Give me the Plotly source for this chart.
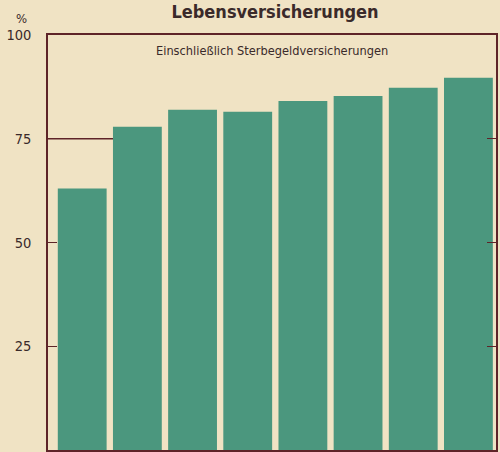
import plotly.graph_objects as go

# Data
bar_index = [0, 1, 2, 3, 4, 5, 6, 7]
share_percent = [63.0, 77.9, 82.0, 81.5, 84.1, 85.3, 87.3, 89.7]
y_tick_values = [0, 25, 50, 75, 100]
y_tick_labels = ["0", "25", "50", "75", "100"]
title_text = "Lebensversicherungen"
subtitle_text = "Einschließlich Sterbegeldversicherungen"

BG = "#f0e3c4"
GREEN = "#4b977e"
AXIS = "#5e2428"
TEXT = "#3a2a2a"
FONT = "Liberation Sans Narrow, DejaVu Sans Condensed, Arial Narrow, sans-serif"

x_range = [-0.62, 7.5]

fig = go.Figure()
fig.add_trace(go.Bar(
    x=bar_index, y=share_percent, width=0.885,
    marker=dict(color=GREEN, line=dict(width=0)),
    hoverinfo="y",
))

fig.update_layout(
    width=500, height=452,
    margin=dict(l=48, r=2, t=35, b=2, pad=0),
    paper_bgcolor=BG, plot_bgcolor=BG,
    showlegend=False,
    font=dict(family=FONT, color=TEXT),
    title=dict(
        text=f"<b>{title_text}</b>", x=275 / 500, xref="container", xanchor="center",
        y=1 - 12 / 452, yref="container", yanchor="middle",
        font=dict(family=FONT, size=18, color=TEXT),
    ),
    xaxis=dict(
        range=x_range, showgrid=False, zeroline=False,
        showticklabels=False, ticks="",
        showline=True, linecolor=AXIS, linewidth=1.8, mirror=True,
    ),
    yaxis=dict(
        range=[0, 100], tickvals=y_tick_values, ticktext=y_tick_labels,
        showgrid=False, zeroline=False,
        ticks="inside", ticklen=9, tickwidth=1.2, tickcolor=AXIS,
        showline=True, linecolor=AXIS, linewidth=1.5, mirror="ticks",
        ticklabelstandoff=12,
        tickfont=dict(family=FONT, size=14.5, color=TEXT),
    ),
    annotations=[
        dict(text=subtitle_text, xref="paper", yref="paper",
             x=(273 - 48) / 450, y=(450 - 50) / 415,
             xanchor="center", yanchor="middle", showarrow=False,
             font=dict(family=FONT, size=12.7, color=TEXT)),
        dict(text="%", xref="paper", yref="paper",
             x=(21 - 48) / 450, y=(450 - 18) / 415,
             xanchor="center", yanchor="middle", showarrow=False,
             font=dict(family=FONT, size=13, color=TEXT)),
    ],
    shapes=[
        dict(type="line", xref="x", yref="y",
             x0=x_range[0], x1=0.56, y0=75, y1=75,
             line=dict(color=AXIS, width=1.5), layer="below"),
    ],
)

fig.write_html(
    "out.html",
    config={"displayModeBar": False},
    post_script="document.body.style.margin='0';document.body.style.overflow='hidden';",
)
